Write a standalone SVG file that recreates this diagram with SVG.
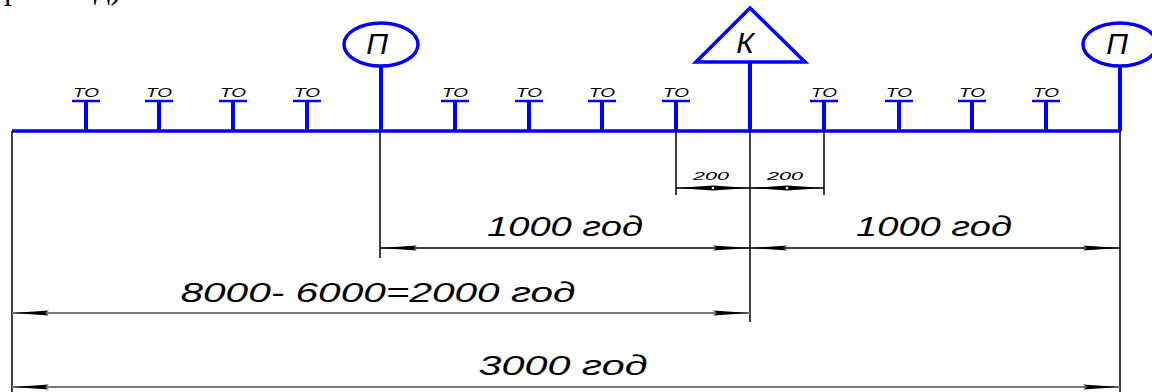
<svg xmlns="http://www.w3.org/2000/svg" width="1152" height="392" viewBox="0 0 1152 392">
<style>
.blue{stroke:#0000ff;fill:none}
.axis{stroke-width:3.5}
.tick{stroke-width:4}
.bar{stroke-width:2.5}
.ext{stroke:#000;stroke-width:1.5;fill:none}
.dim{stroke:#000;stroke-width:1.3;fill:none}
.dimg{stroke:#7a7a7a;stroke-width:2;fill:none}
.to{font-family:"Liberation Sans",Arial,sans-serif;font-style:italic;font-size:12.5px;fill:#000}
.big{font-family:"Liberation Sans",Arial,sans-serif;font-style:italic;font-size:27px;fill:#000}
.sm{font-family:"Liberation Sans",Arial,sans-serif;font-style:italic;font-size:11px;fill:#000}
.lbl{font-family:"Liberation Sans",Arial,sans-serif;font-style:italic;font-size:30px;fill:#000}
.hdr{font-family:"Liberation Serif","Times New Roman",serif;font-size:32px;fill:#000}
</style>
<defs>
<marker id="arr" markerUnits="userSpaceOnUse" markerWidth="40" markerHeight="8" refX="37" refY="4" orient="auto-start-reverse" overflow="visible">
<path d="M37,4 L0,1.6 L4,4 L0,6.4 Z" fill="#000"/>
</marker>
<g id="toTick">
<line x1="0" y1="100" x2="0" y2="131" class="blue tick"/>
<line x1="-14" y1="101" x2="14" y2="101" class="blue bar"/>
<text x="0" y="97" class="to" text-anchor="middle" textLength="26" lengthAdjust="spacingAndGlyphs">TO</text>
</g>
</defs>

<g id="header-fragment">
<text x="4" y="-1" class="hdr">р</text>
<text x="94" y="-1" class="hdr">д)</text>
</g>

<g id="axis">
<line x1="12" y1="131" x2="1121" y2="131" class="blue axis"/>
</g>

<g id="to-ticks">
<use href="#toTick" x="86"/>
<use href="#toTick" x="159"/>
<use href="#toTick" x="233"/>
<use href="#toTick" x="307"/>
<use href="#toTick" x="455"/>
<use href="#toTick" x="529"/>
<use href="#toTick" x="602"/>
<use href="#toTick" x="676"/>
<use href="#toTick" x="824"/>
<use href="#toTick" x="899"/>
<use href="#toTick" x="972"/>
<use href="#toTick" x="1046"/>
</g>

<g id="node-P1">
<line x1="381" y1="66" x2="381" y2="131" class="blue tick"/>
<ellipse cx="381" cy="44.5" rx="37" ry="21.5" class="blue" stroke-width="3.5"/>
<text x="377" y="54" class="lbl" text-anchor="middle">П</text>
</g>

<g id="node-K">
<line x1="750" y1="62" x2="750" y2="131" class="blue tick"/>
<polygon points="750,8 696,62 805,62" class="blue" stroke-width="3.5" stroke-linejoin="miter"/>
<text x="745" y="53" class="lbl" text-anchor="middle">К</text>
</g>

<g id="node-P2">
<line x1="1120" y1="66" x2="1120" y2="131" class="blue tick"/>
<ellipse cx="1120" cy="44.5" rx="37" ry="21.5" class="blue" stroke-width="3.5"/>
<text x="1117" y="54" class="lbl" text-anchor="middle">П</text>
</g>

<g id="connectors">
<line x1="12" y1="131" x2="12" y2="392" class="ext"/>
<line x1="380" y1="131" x2="380" y2="258" class="ext"/>
<line x1="676" y1="131" x2="676" y2="195" class="ext"/>
<line x1="750" y1="131" x2="750" y2="322" class="ext"/>
<line x1="824" y1="131" x2="824" y2="195" class="ext"/>
<line x1="1120" y1="131" x2="1120" y2="392" class="ext"/>

<line x1="676" y1="188" x2="824" y2="188" class="dim" stroke-width="1"/>
<path d="M676,188 L713,185.6 L713,190.4 Z M750,188 L713,185.6 L713,190.4 Z" fill="#000"/>
<path d="M750,188 L787,185.6 L787,190.4 Z M824,188 L787,185.6 L787,190.4 Z" fill="#000"/>
<circle cx="713" cy="188" r="1.6" fill="#fff" stroke="#000" stroke-width="0.6"/>
<circle cx="787" cy="188" r="1.6" fill="#fff" stroke="#000" stroke-width="0.6"/>

<line x1="380" y1="248" x2="750" y2="248" class="dim" marker-start="url(#arr)" marker-end="url(#arr)"/>
<line x1="750" y1="248" x2="1120" y2="248" class="dim" marker-start="url(#arr)" marker-end="url(#arr)"/>

<line x1="12" y1="313" x2="750" y2="313" class="dimg" marker-start="url(#arr)" marker-end="url(#arr)"/>

<line x1="12" y1="387" x2="1120" y2="387" class="dimg" marker-start="url(#arr)" marker-end="url(#arr)"/>
</g>

<g id="dim-labels">
<text x="711" y="180" class="sm" text-anchor="middle" textLength="36" lengthAdjust="spacingAndGlyphs">200</text>
<text x="785" y="180" class="sm" text-anchor="middle" textLength="36" lengthAdjust="spacingAndGlyphs">200</text>
<text x="565" y="236" class="big" text-anchor="middle" textLength="156" lengthAdjust="spacingAndGlyphs">1000 год</text>
<text x="934" y="236" class="big" text-anchor="middle" textLength="156" lengthAdjust="spacingAndGlyphs">1000 год</text>
<text x="378" y="302" class="big" text-anchor="middle" textLength="395" lengthAdjust="spacingAndGlyphs">8000- 6000=2000 год</text>
<text x="563" y="375" class="big" text-anchor="middle" textLength="169" lengthAdjust="spacingAndGlyphs">3000 год</text>
</g>
</svg>
